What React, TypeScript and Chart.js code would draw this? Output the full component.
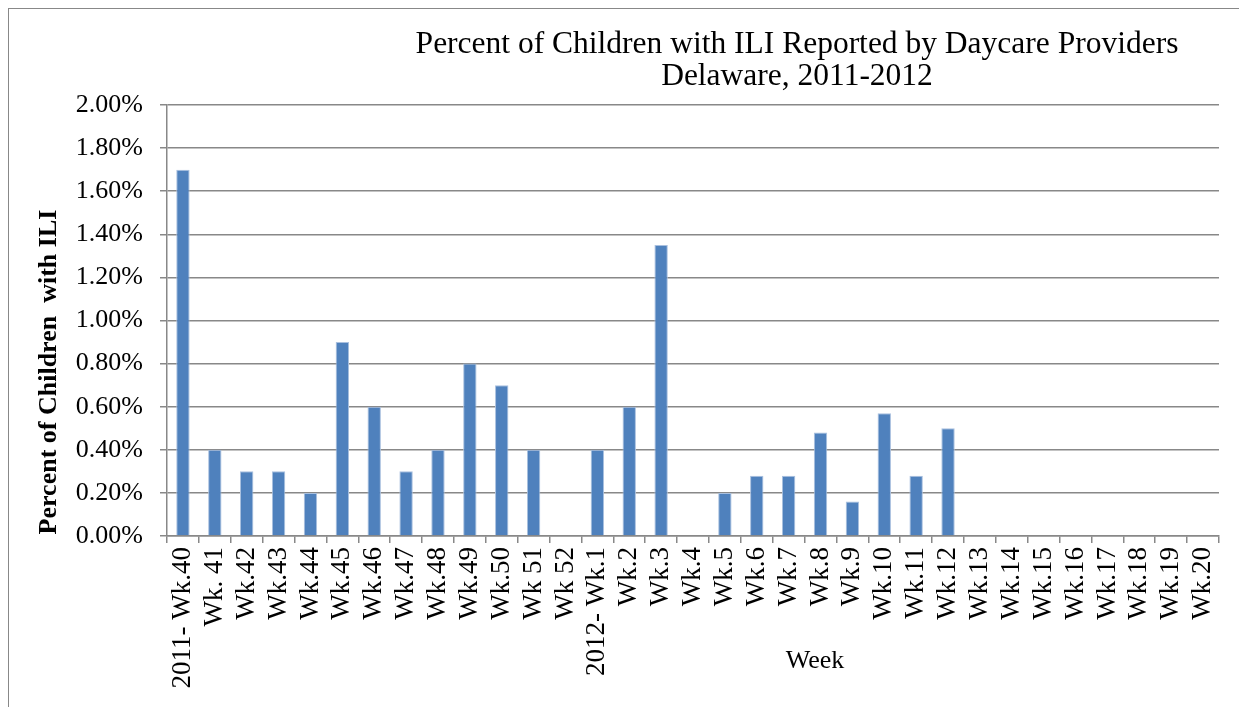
import React, { useEffect, useRef } from "react";
import { Chart, registerables } from "chart.js";

Chart.register(...registerables);

const weeks: string[] = [
  "2011- Wk.40", "Wk. 41", "Wk.42", "Wk.43", "Wk.44", "Wk.45", "Wk.46", "Wk.47", "Wk.48", "Wk.49",
  "Wk.50", "Wk 51", "Wk 52", "2012- Wk.1", "Wk.2", "Wk.3", "Wk.4", "Wk.5", "Wk.6", "Wk.7",
  "Wk.8", "Wk.9", "Wk.10", "Wk.11", "Wk.12", "Wk.13", "Wk.14", "Wk.15", "Wk.16", "Wk.17",
  "Wk.18", "Wk.19", "Wk.20",
];

const percentILI: (number | null)[] = [
  1.70, 0.40, 0.30, 0.30, 0.20, 0.90, 0.60, 0.30, 0.40, 0.80,
  0.70, 0.40, 0, 0.40, 0.60, 1.35, 0, 0.20, 0.28, 0.28,
  0.48, 0.16, 0.57, 0.28, 0.50, 0, 0, 0, 0, 0,
  0, 0, 0,
];

const titleLines: string[] = [
  "Percent of Children with ILI Reported by Daycare Providers",
  "Delaware, 2011-2012",
];
const xTitle = "Week";
const yTitle = "Percent of Children  with ILI";

const SERIF = '"Liberation Serif", "Times New Roman", serif';

export default function App() {
  const ref = useRef<HTMLCanvasElement | null>(null);

  useEffect(() => {
    if (!ref.current) return;
    const textPlugin = {
      id: "customText",
      afterDraw(chart: any) {
        const ctx = chart.ctx;
        ctx.save();
        ctx.fillStyle = "#000";
        ctx.textAlign = "center";
        ctx.textBaseline = "alphabetic";
        ctx.font = `31.5px ${SERIF}`;
        ctx.fillText(titleLines[0], 788, 44);
        ctx.fillText(titleLines[1], 788, 76);
        ctx.font = `26px ${SERIF}`;
        ctx.fillText(xTitle, 806, 659);
        ctx.translate(40, 363);
        ctx.rotate(-Math.PI / 2);
        ctx.textBaseline = "middle";
        ctx.font = `bold 26px ${SERIF}`;
        ctx.fillText(yTitle, 0, 0);
        ctx.restore();
      },
    };

    const chart = new Chart(ref.current, {
      type: "bar",
      data: {
        labels: weeks,
        datasets: [
          {
            data: percentILI,
            backgroundColor: "#4F81BD",
            borderColor: "#a9c0df",
            borderWidth: 1,
            barPercentage: 0.42,
            categoryPercentage: 1,
          },
        ],
      },
      options: {
        animation: false,
        responsive: false,
        maintainAspectRatio: false,
        layout: { padding: { top: 96, right: 26, left: 0, bottom: 0 } },
        plugins: {
          legend: { display: false },
          title: { display: false },
          tooltip: { enabled: false },
        },
        scales: {
          x: {
            offset: true,
            afterFit: (s: any) => { s.height = 171; },
            grid: {
              offset: true,
              drawOnChartArea: false,
              drawTicks: true,
              tickLength: 7,
              color: "#888",
              lineWidth: 1.5,
            },
            border: { display: true, color: "#888", width: 1.5 },
            ticks: {
              autoSkip: false,
              minRotation: 90,
              maxRotation: 90,
              padding: 4,
              color: "#000",
              font: { family: SERIF, size: 27 },
            },
          },
          y: {
            min: 0,
            max: 2,
            afterFit: (s: any) => { s.width = 158; },
            grid: {
              color: "#888",
              lineWidth: 1.5,
              tickLength: 7,
              drawTicks: true,
            },
            border: { display: true, color: "#888", width: 1.5 },
            ticks: {
              stepSize: 0.2,
              padding: 17,
              color: "#000",
              font: { family: SERIF, size: 26 },
              callback: (v: any) => Number(v).toFixed(2) + "%",
            },
          },
        },
      },
      plugins: [textPlugin],
    });
    return () => chart.destroy();
  }, []);

  return (
    <div style={{ width: 1236, height: 698, border: "1px solid #888", background: "#fff" }}>
      <canvas ref={ref} width={1236} height={698} style={{ display: "block", width: 1236, height: 698 }} />
    </div>
  );
}
